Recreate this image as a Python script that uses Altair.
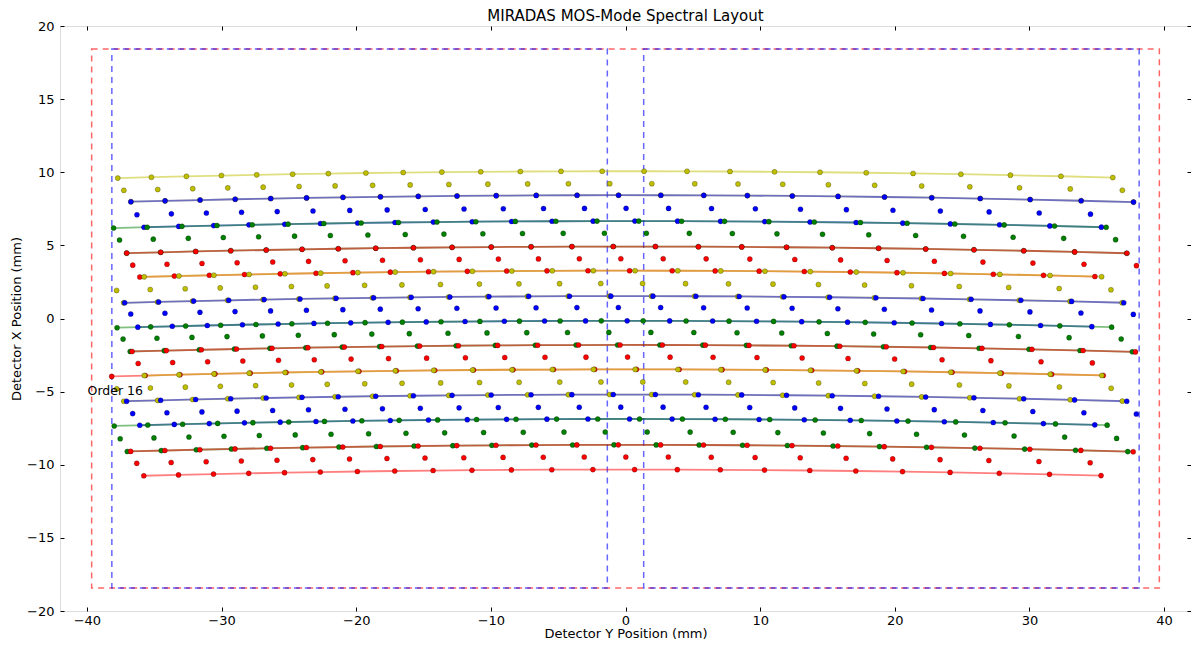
import altair as alt
import pandas as pd
import numpy as np

# ---- values ----
# positions (mm) of the wavelength samples along the top edge of the first (top) order
base_x = [-40.15, -37.71, -35.21, -32.61, -30.01, -27.39, -24.72, -22.07, -19.28, -16.51,
          -13.64, -10.75, -7.81, -4.79, -1.73, 1.38, 4.57, 7.76, 11.07, 14.45,
          17.88, 21.36, 24.91, 28.59, 32.34, 36.19, 40.14]
# orders from top to bottom
order_colors = ["#bfbf00", "#0000ff", "#008000", "#ff0000",
                "#bfbf00", "#0000ff", "#008000", "#ff0000",
                "#bfbf00", "#0000ff", "#008000", "#ff0000"]
# sample phase of each order relative to the first one (in sample steps)
order_phase = [0.0, 0.39, -0.127, 0.265, -0.215, 0.206, -0.022, 0.426, -0.211, 0.263, -0.108, 0.384]
# slit image tilt: top / centre / bottom offsets along dispersion (in sample steps)
slit_frac = [0.0, 0.18, 0.39]
# y (mm) of the order edges and order centres at x = 0
edge_y0 = [10.07, 8.43, 6.66, 4.92, 3.27, 1.53, -0.16, -1.81, -3.48, -5.20, -6.87, -8.64, -10.33]
centre_y0 = [9.22, 7.53, 5.83, 4.09, 2.39, 0.75, -0.95, -2.64, -4.34, -6.06, -7.76, -9.47]
edge_sag = 0.00033          # curvature of the orders (mm per mm^2)
det_limits = [-38.2, 38.25]  # samples drawn only inside the detector

# detector outlines (mm)
red_box = {"x0": [-39.65], "x1": [39.65], "y0": [-18.43], "y1": [18.43]}
blue_boxes = {"x0": [-38.15, 1.35], "x1": [-1.35, 38.15], "y0": [-18.43, -18.43], "y1": [18.43, 18.43]}

label_text = ["Order 16"]
label_x = [-39.95]
label_y = [-5.2]

x_ticks = [-40, -30, -20, -10, 0, 10, 20, 30, 40]
y_ticks = [-20, -15, -10, -5, 0, 5, 10, 15, 20]

# ---- build tables ----
def along(u):
    i = int(np.floor(u))
    f = u - i
    return base_x[i] + f * (base_x[i + 1] - base_x[i])

pts, lines = [], []
for k, col in enumerate(order_colors):
    for r, frac in enumerate(slit_frac):
        for i in range(len(base_x)):
            u = i + order_phase[k] + frac
            if u < 0 or u >= len(base_x) - 1:
                continue
            x = along(u)
            if x < det_limits[0] or x > det_limits[1]:
                continue
            if r == 0:
                y0 = edge_y0[k]
            elif r == 1:
                y0 = centre_y0[k]
            else:
                y0 = edge_y0[k + 1]
            y = y0 - edge_sag * x * x
            pts.append({"x": x, "y": y, "c": col, "k": k})
            if r != 1:
                lines.append({"x": x, "y": y, "c": col, "lid": f"{k}-{r}"})

pts = pd.DataFrame(pts)
lines = pd.DataFrame(lines)

xs = alt.Scale(domain=[-42, 42], nice=False, zero=False)
ys = alt.Scale(domain=[-20, 20], nice=False, zero=False)
FONT = "DejaVu Sans"

x_axis = alt.Axis(values=x_ticks, title="Detector Y Position (mm)", grid=False, domain=False,
                  offset=-4, tickSize=4, tickColor="#000", labelPadding=3, labelFontSize=13,
                  labelColor="#000", titleFontSize=13, titleFontWeight="normal", titleColor="#000",
                  titlePadding=0, labelFont=FONT, titleFont=FONT)
y_axis = alt.Axis(values=y_ticks, title="Detector X Position (mm)", grid=False, domain=False,
                  offset=-4, tickSize=4, tickColor="#000", labelPadding=6, labelFontSize=13,
                  labelColor="#000", titleFontSize=13, titleFontWeight="normal", titleColor="#000",
                  titlePadding=3, labelFont=FONT, titleFont=FONT)
x_top = alt.Axis(values=x_ticks, orient="top", labels=False, title=None, grid=False, domain=False,
                 offset=-4, tickSize=4, tickColor="#000")
y_right = alt.Axis(values=y_ticks, orient="right", labels=False, title=None, grid=False, domain=False,
                   offset=-4, tickSize=4, tickColor="#000")

red_df = pd.DataFrame(red_box)
blue_df = pd.DataFrame(blue_boxes)

red_layer = alt.Chart(red_df).mark_rect(fill=None, filled=False, stroke="#ff0000", strokeOpacity=0.6,
                                        strokeWidth=1.5, strokeDash=[6, 5]).encode(
    x=alt.X("x0:Q", scale=xs, axis=x_top), x2="x1", y=alt.Y("y0:Q", scale=ys, axis=y_right), y2="y1")
blue_layer = alt.Chart(blue_df).mark_rect(fill=None, filled=False, stroke="#0000ff", strokeOpacity=0.6,
                                          strokeWidth=1.5, strokeDash=[6, 5]).encode(
    x=alt.X("x0:Q", scale=xs, axis=None), x2="x1", y=alt.Y("y0:Q", scale=ys, axis=None), y2="y1")

line_layer = alt.Chart(lines).mark_line(strokeWidth=1.8, opacity=0.5).encode(
    x=alt.X("x:Q", scale=xs, axis=None), y=alt.Y("y:Q", scale=ys, axis=None),
    color=alt.Color("c:N", scale=None), detail="lid:N", order="x:Q")

point_layer = alt.Chart(pts).mark_point(filled=True, size=26, opacity=1, stroke="#000",
                                        strokeWidth=0.5, strokeOpacity=0.5).encode(
    x=alt.X("x:Q", scale=xs, axis=x_axis), y=alt.Y("y:Q", scale=ys, axis=y_axis),
    fill=alt.Fill("c:N", scale=None))

text_layer = alt.Chart(pd.DataFrame({"t": label_text, "x": label_x, "y": label_y})).mark_text(
    align="left", baseline="alphabetic", fontSize=12.5, font=FONT, color="#000").encode(
    x=alt.X("x:Q", scale=xs, axis=None), y=alt.Y("y:Q", scale=ys, axis=None), text="t:N")

chart = alt.layer(red_layer, blue_layer, line_layer, point_layer, text_layer).resolve_axis(
    x="independent", y="independent").properties(
    width=1131, height=585,
    autosize=alt.AutoSizeParams(type="none"),
    padding={"left": 52, "top": 18, "right": 0, "bottom": 31},
    title=alt.TitleParams("MIRADAS MOS-Mode Spectral Layout", fontSize=15, font=FONT,
                          fontWeight="normal", color="#000", anchor="middle", offset=-4),
).configure_view(stroke="#000", strokeWidth=1).configure(background="white")

chart.save("out.html", embed_options={"renderer": "svg", "actions": False})
